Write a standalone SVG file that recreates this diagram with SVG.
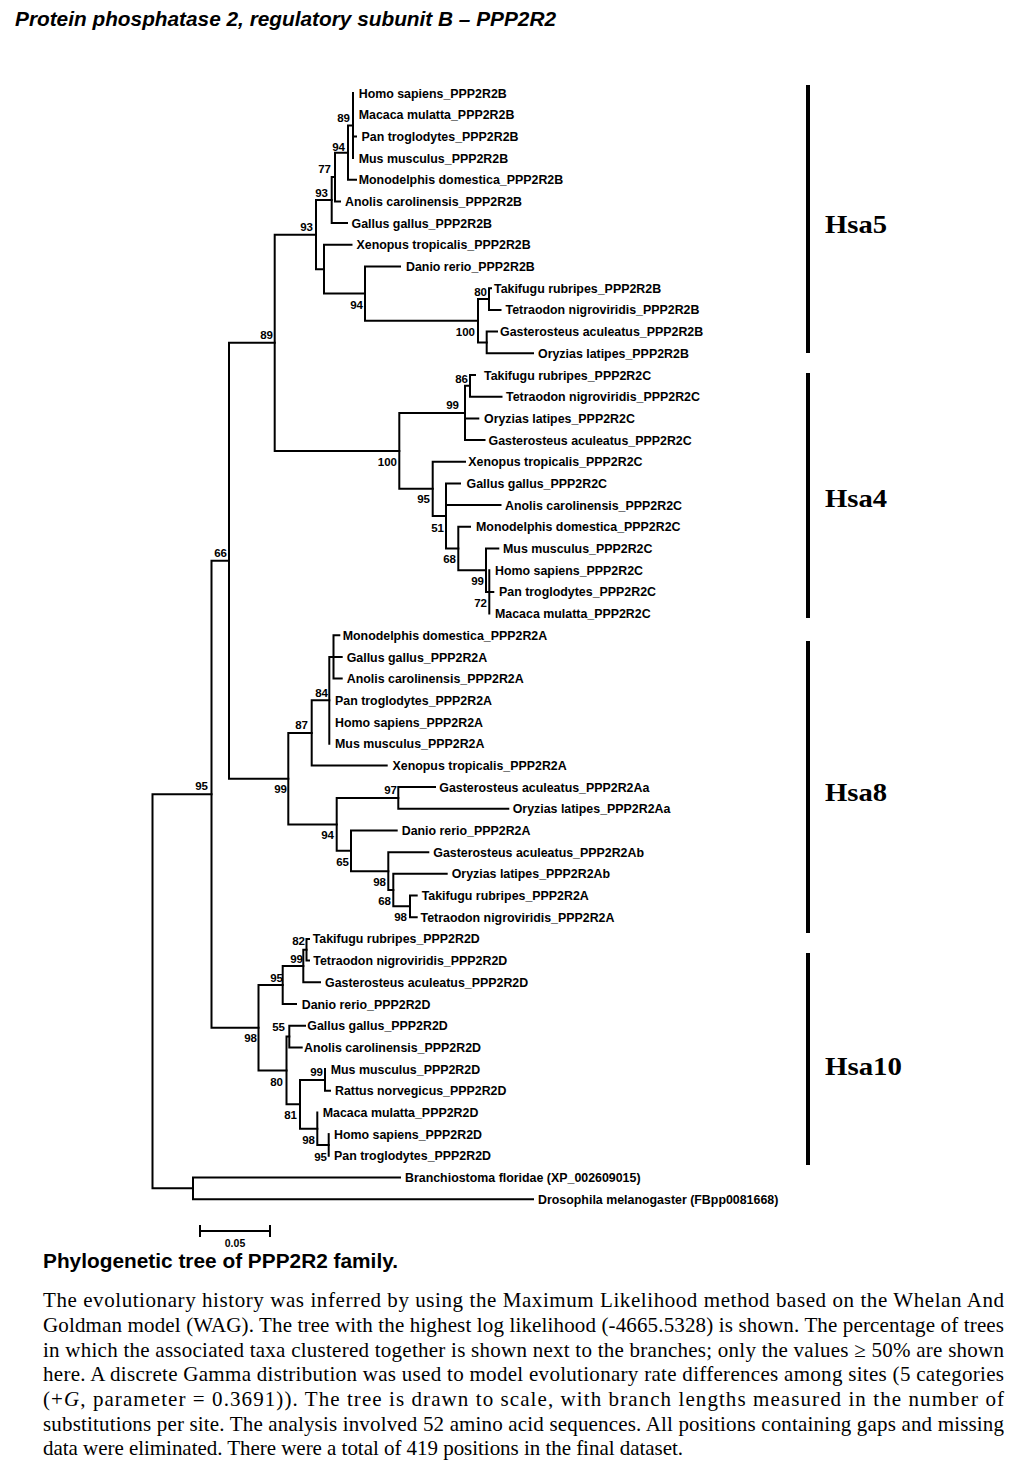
<svg xmlns="http://www.w3.org/2000/svg" width="1019" height="1475" viewBox="0 0 1019 1475">
<style>
.br{fill:none;stroke:#000;stroke-width:2;stroke-linecap:square}
.lf{font-family:"Liberation Sans",Arial,sans-serif;font-weight:bold;font-size:12.4px;fill:#000}
.bs{font-family:"Liberation Sans",Arial,sans-serif;font-weight:bold;font-size:11.5px;fill:#000;text-anchor:end}
.hsa{font-family:"Liberation Serif","Times New Roman",serif;font-weight:bold;font-size:25px;fill:#000}
.cap{font-family:"Liberation Serif","Times New Roman",serif;font-size:21px;fill:#000}
</style>
<rect width="1019" height="1475" fill="#fff"/>
<text x="15" y="26" font-family="Liberation Sans, Arial, sans-serif" font-weight="bold" font-style="italic" font-size="20.8" textLength="541" lengthAdjust="spacingAndGlyphs">Protein phosphatase 2, regulatory subunit B – PPP2R2</text>

<g id="connectors" class="br">
<path d="M353,93V158.1M353,136.4H356"/>
<path d="M348,125.6V179.8M348,125.6H353M348,179.8H356"/>
<path d="M335,152.7V201.5M335,152.7H348M335,201.5H340"/>
<path d="M331.7,177.1V223.1M331.7,177.1H335M331.7,223.1H347"/>
<path d="M316,200.1V269.2M316,200.1H331.7M316,269.2H324"/>
<path d="M324,244.8V293.6M324,244.8H351.5M324,293.6H365"/>
<path d="M365,266.5V320.75M365,266.5H400M365,320.75H478"/>
<path d="M478,299.05V342.45M478,299.05H489M478,342.45H486.7"/>
<path d="M489,288.2V309.9M489,288.2H491M489,309.9H500.5"/>
<path d="M486.7,331.6V353.3M486.7,331.6H497M486.7,353.3H533"/>
<path d="M274.7,234.7V450.9M274.7,234.7H316M274.7,450.9H399.3"/>
<path d="M399.3,412.9V488.85M399.3,412.9H465M399.3,488.85H432.7"/>
<path d="M465,385.85V440M465,385.85H470M465,418.4H478.3M465,440H484.5"/>
<path d="M470,375V396.7M470,375H475M470,396.7H501.5"/>
<path d="M432.7,461.7V516M432.7,461.7H465M432.7,516H446"/>
<path d="M446,483.4V548.5M446,483.4H460M446,505.1H500.5M446,548.5H458.3"/>
<path d="M458.3,526.8V570.2M458.3,526.8H470M458.3,570.2H486"/>
<path d="M486,548.5V591.9M486,548.5H498.3M486,591.9H489.3"/>
<path d="M489.3,570.2V613.6M489.3,591.9H493.3"/>
<path d="M229,342.8V778.65M229,342.8H274.7M229,778.65H288.3"/>
<path d="M288.3,732.9V824.4M288.3,732.9H311.7M288.3,824.4H336.7"/>
<path d="M311.7,700.35V765.4M311.7,700.35H329.3M311.7,765.4H386.7"/>
<path d="M329.3,657V743.7M329.3,657H333.5"/>
<path d="M333.5,635.3V678.6M333.5,635.3H339.3M333.5,657H341.7M333.5,678.6H341.7"/>
<path d="M336.7,797.95V850.8M336.7,797.95H398.3M336.7,850.8H351"/>
<path d="M398.3,787.1V808.8M398.3,787.1H435M398.3,808.8H508.3"/>
<path d="M351,830.5V871.15M351,830.5H396.7M351,871.15H388.3"/>
<path d="M388.3,852.2V890.1M388.3,852.2H428.3M388.3,890.1H393.3"/>
<path d="M393.3,873.8V906.35M393.3,873.8H446.7M393.3,906.35H410"/>
<path d="M410,895.5V917.2M410,895.5H416.7M410,917.2H416.7"/>
<path d="M211.5,560.7V1027.7M211.5,560.7H229M211.5,1027.7H258.5"/>
<path d="M258.5,985V1070.4M258.5,985H282.7M258.5,1070.4H286.5"/>
<path d="M282.7,966V1004M282.7,966H303.3M282.7,1004H296"/>
<path d="M303.3,949.75V982.3M303.3,949.75H306.5M303.3,982.3H320"/>
<path d="M306.5,938.9V960.6M306.5,938.9H309M306.5,960.6H309"/>
<path d="M286.5,1036.55V1104.3M286.5,1036.55H289.3M286.5,1104.3H300"/>
<path d="M289.3,1025.7V1047.4M289.3,1025.7H305M289.3,1047.4H301.7"/>
<path d="M300,1079.95V1128.7M300,1079.95H325M300,1128.7H317.3"/>
<path d="M325,1069.1V1090.8M325,1090.8H330"/>
<path d="M317.3,1112.5V1144.95M317.3,1144.95H328.7"/>
<path d="M328.7,1134.1V1155.8"/>
<path d="M152.5,794.2V1188.35M152.5,794.2H211.5M152.5,1188.35H193"/>
<path d="M193,1177.5V1199.2M193,1177.5H400M193,1199.2H533"/>
</g>

<g id="bootstrap" class="bs">
<text x="350" y="122">89</text>
<text x="345" y="150.7">94</text>
<text x="331" y="173.3">77</text>
<text x="328" y="197.3">93</text>
<text x="313" y="231">93</text>
<text x="363" y="309">94</text>
<text x="487" y="295.7">80</text>
<text x="475" y="335.7">100</text>
<text x="273" y="339">89</text>
<text x="397" y="465.7">100</text>
<text x="468" y="383">86</text>
<text x="459" y="409">99</text>
<text x="430" y="503.3">95</text>
<text x="444" y="531.7">51</text>
<text x="456" y="563.3">68</text>
<text x="484" y="585">99</text>
<text x="487" y="606.7">72</text>
<text x="227" y="557">66</text>
<text x="328" y="697.3">84</text>
<text x="308" y="729">87</text>
<text x="287" y="793">99</text>
<text x="208" y="790">95</text>
<text x="397" y="794">97</text>
<text x="334" y="839">94</text>
<text x="349" y="865.7">65</text>
<text x="386" y="886.3">98</text>
<text x="391" y="904.7">68</text>
<text x="407" y="920.7">98</text>
<text x="305" y="945">82</text>
<text x="303" y="963">99</text>
<text x="283" y="982.3">95</text>
<text x="285" y="1030.7">55</text>
<text x="257" y="1042.3">98</text>
<text x="323" y="1075.7">99</text>
<text x="283" y="1085.7">80</text>
<text x="297" y="1119">81</text>
<text x="315" y="1144">98</text>
<text x="327" y="1160.7">95</text>
</g>

<g id="leaves" class="lf">
<g id="n0"><text x="358.7" y="97.5">Homo sapiens_PPP2R2B</text></g>
<g id="n1"><text x="358.7" y="119.2">Macaca mulatta_PPP2R2B</text></g>
<g id="n2"><text x="361.5" y="140.9">Pan troglodytes_PPP2R2B</text></g>
<g id="n3"><text x="358.7" y="162.6">Mus musculus_PPP2R2B</text></g>
<g id="n4"><text x="358.7" y="184.3">Monodelphis domestica_PPP2R2B</text></g>
<g id="n5"><text x="345" y="206">Anolis carolinensis_PPP2R2B</text></g>
<g id="n6"><text x="351.5" y="227.6">Gallus gallus_PPP2R2B</text></g>
<g id="n7"><text x="356.5" y="249.3">Xenopus tropicalis_PPP2R2B</text></g>
<g id="n8"><text x="406" y="271">Danio rerio_PPP2R2B</text></g>
<g id="n9"><text x="494" y="292.7">Takifugu rubripes_PPP2R2B</text></g>
<g id="n10"><text x="505.5" y="314.4">Tetraodon nigroviridis_PPP2R2B</text></g>
<g id="n11"><text x="500" y="336.1">Gasterosteus aculeatus_PPP2R2B</text></g>
<g id="n12"><text x="538" y="357.8">Oryzias latipes_PPP2R2B</text></g>
<g id="n13"><text x="484" y="379.5">Takifugu rubripes_PPP2R2C</text></g>
<g id="n14"><text x="506" y="401.2">Tetraodon nigroviridis_PPP2R2C</text></g>
<g id="n15"><text x="484" y="422.9">Oryzias latipes_PPP2R2C</text></g>
<g id="n16"><text x="488.5" y="444.5">Gasterosteus aculeatus_PPP2R2C</text></g>
<g id="n17"><text x="468.3" y="466.2">Xenopus tropicalis_PPP2R2C</text></g>
<g id="n18"><text x="466.5" y="487.9">Gallus gallus_PPP2R2C</text></g>
<g id="n19"><text x="505" y="509.6">Anolis carolinensis_PPP2R2C</text></g>
<g id="n20"><text x="476" y="531.3">Monodelphis domestica_PPP2R2C</text></g>
<g id="n21"><text x="503" y="553">Mus musculus_PPP2R2C</text></g>
<g id="n22"><text x="495" y="574.7">Homo sapiens_PPP2R2C</text></g>
<g id="n23"><text x="499" y="596.4">Pan troglodytes_PPP2R2C</text></g>
<g id="n24"><text x="495" y="618.1">Macaca mulatta_PPP2R2C</text></g>
<g id="n25"><text x="342.7" y="639.8">Monodelphis domestica_PPP2R2A</text></g>
<g id="n26"><text x="346.7" y="661.5">Gallus gallus_PPP2R2A</text></g>
<g id="n27"><text x="346.7" y="683.1">Anolis carolinensis_PPP2R2A</text></g>
<g id="n28"><text x="335" y="704.8">Pan troglodytes_PPP2R2A</text></g>
<g id="n29"><text x="335" y="726.5">Homo sapiens_PPP2R2A</text></g>
<g id="n30"><text x="335" y="748.2">Mus musculus_PPP2R2A</text></g>
<g id="n31"><text x="392.5" y="769.9">Xenopus tropicalis_PPP2R2A</text></g>
<g id="n32"><text x="439.3" y="791.6">Gasterosteus aculeatus_PPP2R2Aa</text></g>
<g id="n33"><text x="512.7" y="813.3">Oryzias latipes_PPP2R2Aa</text></g>
<g id="n34"><text x="401.7" y="835">Danio rerio_PPP2R2A</text></g>
<g id="n35"><text x="433.3" y="856.7">Gasterosteus aculeatus_PPP2R2Ab</text></g>
<g id="n36"><text x="451.7" y="878.3">Oryzias latipes_PPP2R2Ab</text></g>
<g id="n37"><text x="421.7" y="900">Takifugu rubripes_PPP2R2A</text></g>
<g id="n38"><text x="420.5" y="921.7">Tetraodon nigroviridis_PPP2R2A</text></g>
<g id="n39"><text x="312.7" y="943.4">Takifugu rubripes_PPP2R2D</text></g>
<g id="n40"><text x="313.3" y="965.1">Tetraodon nigroviridis_PPP2R2D</text></g>
<g id="n41"><text x="325" y="986.8">Gasterosteus aculeatus_PPP2R2D</text></g>
<g id="n42"><text x="301.7" y="1008.5">Danio rerio_PPP2R2D</text></g>
<g id="n43"><text x="307.3" y="1030.2">Gallus gallus_PPP2R2D</text></g>
<g id="n44"><text x="304" y="1051.9">Anolis carolinensis_PPP2R2D</text></g>
<g id="n45"><text x="330.7" y="1073.6">Mus musculus_PPP2R2D</text></g>
<g id="n46"><text x="335" y="1095.3">Rattus norvegicus_PPP2R2D</text></g>
<g id="n47"><text x="322.7" y="1117">Macaca mulatta_PPP2R2D</text></g>
<g id="n48"><text x="334" y="1138.6">Homo sapiens_PPP2R2D</text></g>
<g id="n49"><text x="334" y="1160.3">Pan troglodytes_PPP2R2D</text></g>
<g id="n50"><text x="405" y="1182">Branchiostoma floridae (XP_002609015)</text></g>
<g id="n51"><text x="538" y="1203.7">Drosophila melanogaster (FBpp0081668)</text></g>
</g>

<g id="groups">
<g id="hsa5"><rect x="806" y="85" width="4" height="268" fill="#000"/><text class="hsa" x="825" y="233" textLength="62" lengthAdjust="spacingAndGlyphs">Hsa5</text></g>
<g id="hsa4"><rect x="806" y="373" width="4" height="245" fill="#000"/><text class="hsa" x="825" y="507" textLength="62" lengthAdjust="spacingAndGlyphs">Hsa4</text></g>
<g id="hsa8"><rect x="806" y="641" width="4" height="292" fill="#000"/><text class="hsa" x="825" y="801" textLength="62" lengthAdjust="spacingAndGlyphs">Hsa8</text></g>
<g id="hsa10"><rect x="806" y="953" width="4" height="212" fill="#000"/><text class="hsa" x="825" y="1075" textLength="77" lengthAdjust="spacingAndGlyphs">Hsa10</text></g>
</g>

<g id="scalebar">
<path class="br" d="M200,1231H270M200,1226V1236M270,1226V1236"/>
<text x="235" y="1247" text-anchor="middle" font-family="Liberation Sans, Arial, sans-serif" font-weight="bold" font-size="10.5">0.05</text>
</g>

<g id="caption">
<text x="43" y="1268" font-family="Liberation Sans, Arial, sans-serif" font-weight="bold" font-size="20.5" textLength="355" lengthAdjust="spacingAndGlyphs">Phylogenetic tree of PPP2R2 family.</text>
<text class="cap" x="43" y="1307" textLength="961" lengthAdjust="spacing">The evolutionary history was inferred by using the Maximum Likelihood method based on the Whelan And</text>
<text class="cap" x="43" y="1332" textLength="961" lengthAdjust="spacing">Goldman model (WAG). The tree with the highest log likelihood (-4665.5328) is shown. The percentage of trees</text>
<text class="cap" x="43" y="1357" textLength="961" lengthAdjust="spacing">in which the associated taxa clustered together is shown next to the branches; only the values ≥ 50% are shown</text>
<text class="cap" x="43" y="1381" textLength="961" lengthAdjust="spacing">here. A discrete Gamma distribution was used to model evolutionary rate differences among sites (5 categories</text>
<text class="cap" x="43" y="1406" textLength="961" lengthAdjust="spacing">(+<tspan font-style="italic">G</tspan>, parameter = 0.3691)). The tree is drawn to scale, with branch lengths measured in the number of</text>
<text class="cap" x="43" y="1431" textLength="961" lengthAdjust="spacing">substitutions per site. The analysis involved 52 amino acid sequences. All positions containing gaps and missing</text>
<text class="cap" x="43" y="1455" textLength="640" lengthAdjust="spacing">data were eliminated. There were a total of 419 positions in the final dataset.</text>
</g>
</svg>
